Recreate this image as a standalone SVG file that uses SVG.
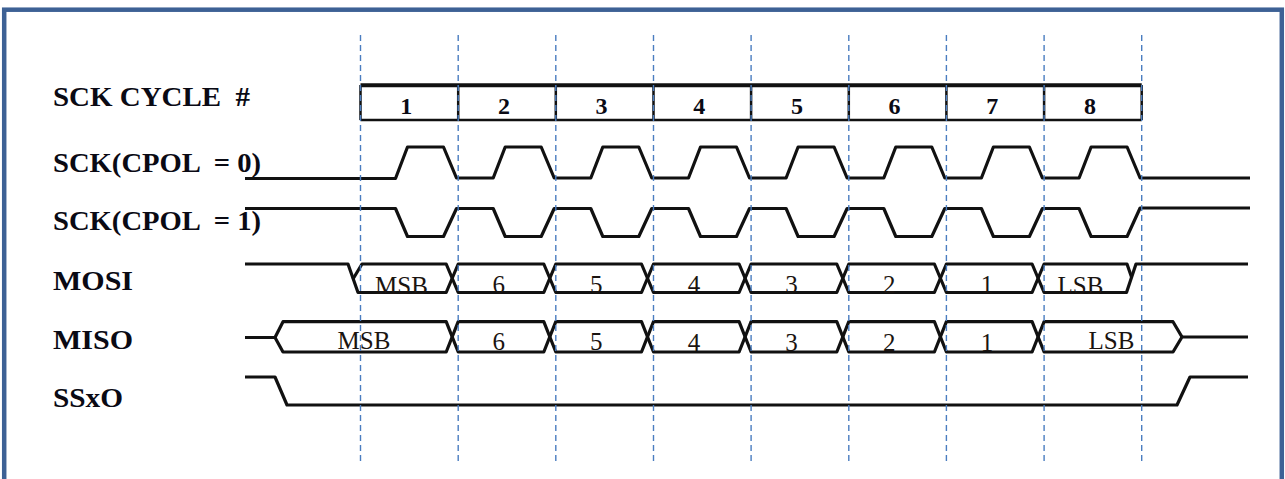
<svg xmlns="http://www.w3.org/2000/svg" width="1285" height="479" viewBox="0 0 1285 479">
<style>
.lbl{font-family:"Liberation Serif","Times New Roman",serif;font-weight:bold;font-size:28px;fill:#0a0a14}
.num{font-family:"Liberation Serif","Times New Roman",serif;font-weight:bold;font-size:24px;fill:#0a0a14;text-anchor:middle}
.dat{font-family:"Liberation Serif","Times New Roman",serif;font-size:25px;fill:#1a1410;text-anchor:middle}
.sig{fill:none;stroke:#111;stroke-width:3.2;stroke-linejoin:round}
.box{fill:none;stroke:#111;stroke-width:2.5}
.guide{stroke:#4a7dc0;stroke-width:1.4;stroke-dasharray:6 4}
</style>
<rect x="0" y="0" width="1285" height="479" fill="#fff"/>
<rect id="frame" x="4.2" y="9.7" width="1277.6" height="480" fill="none" stroke="#3d6195" stroke-width="4.5"/>

<g id="labels">
<text class="lbl" x="53" y="105.5" xml:space="preserve" textLength="197" lengthAdjust="spacingAndGlyphs">SCK CYCLE  #</text>
<text class="lbl" x="53" y="171.5" xml:space="preserve" textLength="208" lengthAdjust="spacingAndGlyphs">SCK(CPOL  = 0)</text>
<text class="lbl" x="53" y="230" xml:space="preserve" textLength="208" lengthAdjust="spacingAndGlyphs">SCK(CPOL  = 1)</text>
<text class="lbl" x="53" y="289.5" textLength="80" lengthAdjust="spacingAndGlyphs">MOSI</text>
<text class="lbl" x="53" y="349" textLength="80" lengthAdjust="spacingAndGlyphs">MISO</text>
<text class="lbl" x="53" y="406.5" textLength="70" lengthAdjust="spacingAndGlyphs">SSxO</text>
</g>

<g id="cycle-row">
<path d="M360.5,85.3 H1141.7" fill="none" stroke="#111" stroke-width="4"/>
<path class="box" d="M360.5,120 H1141.7 M360.5,85 V120 M458.2,85 V120 M555.8,85 V120 M653.5,85 V120 M751.1,85 V120 M848.8,85 V120 M946.4,85 V120 M1044.1,85 V120 M1141.7,85 V120"/>
<text class="num" x="406.3" y="113.5">1</text>
<text class="num" x="504" y="113.5">2</text>
<text class="num" x="601.6" y="113.5">3</text>
<text class="num" x="699.3" y="113.5">4</text>
<text class="num" x="797" y="113.5">5</text>
<text class="num" x="894.6" y="113.5">6</text>
<text class="num" x="992.2" y="113.5">7</text>
<text class="num" x="1090" y="113.5">8</text>
</g>

<g id="sck-cpol0">
<path class="sig" d="M245,178.5 L395.5,178.5 L407.5,147 L443.5,147 L456.5,178 L493.2,178 L505.2,147 L541.2,147 L554.2,178 L590.8,178 L602.8,147 L638.8,147 L651.8,178 L688.5,178 L700.5,147 L736.5,147 L749.5,178 L786.1,178 L798.1,147 L834.1,147 L847.1,178 L883.8,178 L895.8,147 L931.8,147 L944.8,178 L981.4,178 L993.4,147 L1029.4,147 L1042.4,178 L1079.1,178 L1091.1,147 L1127.1,147 L1140.1,178 L1250,178"/>
</g>

<g id="sck-cpol1">
<path class="sig" d="M245,208.5 L395.5,208.5 L407.5,236.5 L443.5,236.5 L456.5,208.5 L493.2,208.5 L505.2,236.5 L541.2,236.5 L554.2,208.5 L590.8,208.5 L602.8,236.5 L638.8,236.5 L651.8,208.5 L688.5,208.5 L700.5,236.5 L736.5,236.5 L749.5,208.5 L786.1,208.5 L798.1,236.5 L834.1,236.5 L847.1,208.5 L883.8,208.5 L895.8,236.5 L931.8,236.5 L944.8,208.5 L981.4,208.5 L993.4,236.5 L1029.4,236.5 L1042.4,208.5 L1079.1,208.5 L1091.1,236.5 L1127.1,236.5 L1140.1,208 L1250,208"/>
</g>

<g id="mosi">
<path class="sig" d="M245,264 H348 L358,292.5 H446.2 L458.2,264 H543.8 L555.8,292.5 H641.5 L653.5,264 H739.1 L751.1,292.5 H836.8 L848.8,264 H934.4 L946.4,292.5 H1032.1 L1044.1,264 H1127 L1131.5,277"/>
<path class="sig" d="M353,279 L362,264 H446.2 L458.2,292.5 H543.8 L555.8,264 H641.5 L653.5,292.5 H739.1 L751.1,264 H836.8 L848.8,292.5 H934.4 L946.4,264 H1032.1 L1044.1,292.5 H1126.5 L1136,264 H1248"/>
<text class="dat" x="401.5" y="294">MSB</text>
<text class="dat" x="498.7" y="293">6</text>
<text class="dat" x="596.3" y="293">5</text>
<text class="dat" x="694" y="293">4</text>
<text class="dat" x="791.6" y="293">3</text>
<text class="dat" x="889.3" y="293">2</text>
<text class="dat" x="986.9" y="293">1</text>
<text class="dat" x="1080.5" y="293.5">LSB</text>
</g>

<g id="miso">
<path class="sig" d="M245,337.5 H275 L283,321.7 H446.2 L458.2,352 H543.8 L555.8,321.7 H641.5 L653.5,352 H739.1 L751.1,321.7 H836.8 L848.8,352 H934.4 L946.4,321.7 H1032.1 L1044.1,352 H1173 L1182,337 H1248"/>
<path class="sig" d="M275,337.5 L283,352 H446.2 L458.2,321.7 H543.8 L555.8,352 H641.5 L653.5,321.7 H739.1 L751.1,352 H836.8 L848.8,321.7 H934.4 L946.4,352 H1032.1 L1044.1,321.7 H1173 L1182,337"/>
<text class="dat" x="364" y="348.5">MSB</text>
<text class="dat" x="498.7" y="349.5">6</text>
<text class="dat" x="596.3" y="349.5">5</text>
<text class="dat" x="694" y="350.5">4</text>
<text class="dat" x="791.6" y="350.5">3</text>
<text class="dat" x="889.3" y="350.5">2</text>
<text class="dat" x="986.9" y="350.5">1</text>
<text class="dat" x="1111.5" y="349">LSB</text>
</g>

<g id="ssxo">
<path class="sig" d="M245,377 H275 L287,405 H1177 L1190,377 H1248"/>
</g>

<g id="connectors">
<path class="guide" d="M360.5,35 V463 M458.2,35 V463 M555.8,35 V463 M653.5,35 V463 M751.1,35 V463 M848.8,35 V463 M946.4,35 V463 M1044.1,35 V463 M1141.7,35 V463"/>
</g>
</svg>
